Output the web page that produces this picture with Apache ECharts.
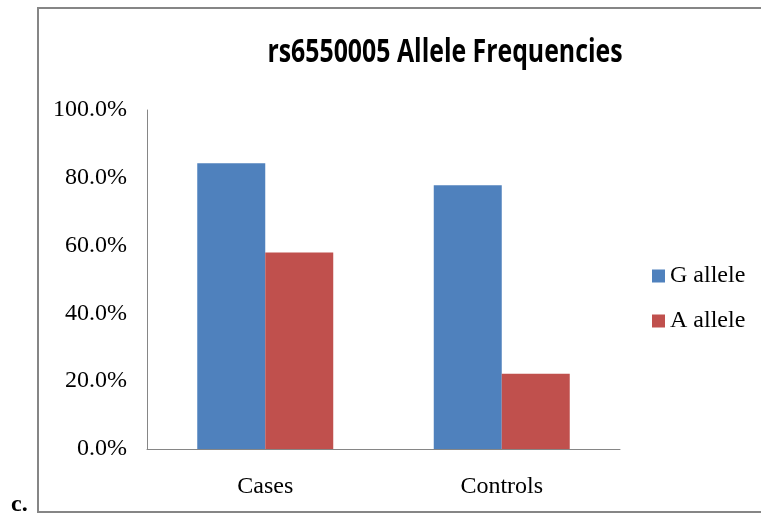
<!DOCTYPE html>
<html>
<head>
<meta charset="utf-8">
<script src="https://cdn.jsdelivr.net/npm/echarts@6/dist/echarts.min.js"></script>
<style>
  html, body { margin: 0; padding: 0; background: #fff; }
  #chart { width: 761px; height: 516px; }
</style>
</head>
<body>
<div id="chart"></div>
<script>
// data
const categories = ['Cases', 'Controls']
const gAllele = [84.3, 77.8]
const aAllele = [58.0, 22.2]
const yTicks = { min: 0, max: 100, interval: 20 }

const serif = '"Liberation Serif", "Times New Roman", serif'
const axisGrey = '#868686'

const chart = echarts.init(document.getElementById('chart'))

const option = {
  animation: false,
  backgroundColor: '#fff',
  graphic: [
    {
      type: 'rect',
      shape: { x: 38, y: 8, width: 740, height: 504 },
      style: { fill: 'none', stroke: axisGrey, lineWidth: 2 },
      silent: true
    },
    // title: narrow bold face, squeezed horizontally like the Calibri original
    {
      type: 'text',
      x: 445,
      y: 53,
      scaleX: 0.776,
      style: {
        text: 'rs6550005 Allele Frequencies',
        font: 'bold 32px "Open Sans", sans-serif',
        fill: '#000',
        align: 'center',
        verticalAlign: 'middle'
      }
    },
    {
      type: 'text',
      left: 11,
      top: 493,
      style: { text: 'c.', font: 'bold 24px ' + serif, fill: '#000' }
    }
  ],
  legend: {
    orient: 'vertical',
    left: 652,
    top: 264,
    padding: 0,
    itemWidth: 13,
    itemHeight: 13,
    itemGap: 21,
    icon: 'rect',
    textStyle: { fontFamily: serif, fontSize: 24, color: '#000', lineHeight: 24 }
  },
  grid: { left: 147, right: 141, top: 110, bottom: 67 },
  xAxis: {
    type: 'category',
    data: categories,
    axisLine: { lineStyle: { color: axisGrey, width: 1 } },
    axisTick: { show: false },
    axisLabel: { fontFamily: serif, fontSize: 24, color: '#000', margin: 26 }
  },
  yAxis: {
    type: 'value',
    min: yTicks.min,
    max: yTicks.max,
    interval: yTicks.interval,
    axisLine: { show: true, lineStyle: { color: axisGrey, width: 1 } },
    axisTick: { show: false },
    splitLine: { show: false },
    axisLabel: {
      fontFamily: serif,
      fontSize: 24,
      color: '#000',
      margin: 20,
      formatter: v => v.toFixed(1) + '%'
    }
  },
  series: [
    {
      name: 'G allele',
      type: 'bar',
      data: gAllele,
      barGap: '0%',
      barCategoryGap: '42.5%',
      itemStyle: { color: '#4F81BD' }
    },
    {
      name: 'A allele',
      type: 'bar',
      data: aAllele,
      itemStyle: { color: '#C0504D' }
    }
  ]
}

chart.setOption(option)
</script>
</body>
</html>
